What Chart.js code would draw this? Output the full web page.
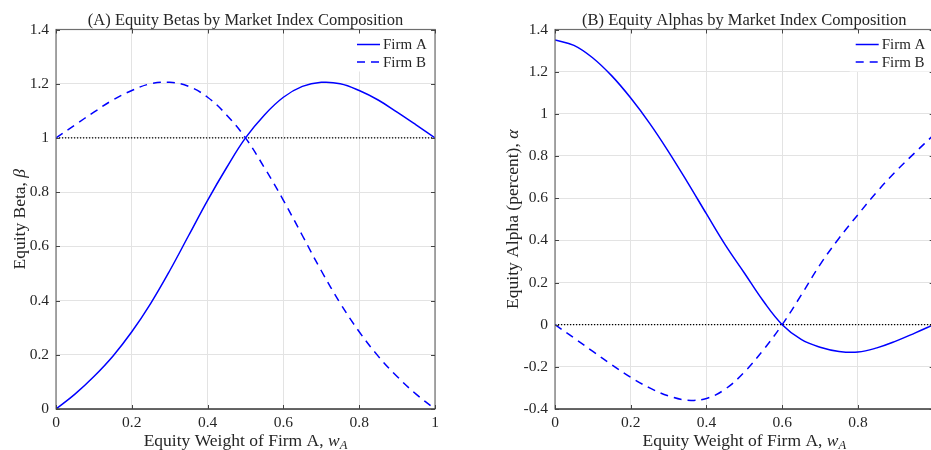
<!DOCTYPE html>
<html>
<head>
<meta charset="utf-8">
<script src="https://cdn.jsdelivr.net/npm/chart.js@4.4.0/dist/chart.umd.min.js"></script>
<style>
  html, body { margin: 0; padding: 0; background: #fff; overflow: hidden; }
  #wrap { position: relative; width: 931px; height: 450px; overflow: hidden; }
  canvas { position: absolute; top: 0; }
  #betaChart { left: 0; }
  #alphaChart { left: 465px; }
</style>
</head>
<body>
<div id="wrap">
  <canvas id="betaChart" width="465" height="450"></canvas>
  <canvas id="alphaChart" width="480" height="450"></canvas>
</div>
<script>
// Equity weight of firm A in the market index
const weights = [0, 0.05, 0.1, 0.15, 0.2, 0.25, 0.3, 0.35, 0.4, 0.45, 0.5,
  0.55, 0.6, 0.65, 0.7, 0.75, 0.8, 0.85, 0.9, 0.95, 1];

// Panel A: equity betas
const betaFirmA = [0, 0.055, 0.12, 0.195, 0.285, 0.39, 0.51, 0.64, 0.77, 0.89, 1.0,
  1.085, 1.15, 1.19, 1.205, 1.2, 1.175, 1.14, 1.095, 1.048, 1.0];
const betaFirmB = [1.0, 1.048, 1.095, 1.14, 1.175, 1.2, 1.205, 1.19, 1.15, 1.085, 1.0,
  0.89, 0.77, 0.64, 0.51, 0.39, 0.285, 0.195, 0.12, 0.055, 0];

// Panel B: equity alphas (percent)
const alphaFirmA = [1.35, 1.325, 1.265, 1.18, 1.075, 0.955, 0.82, 0.675, 0.525, 0.377, 0.245,
  0.112, 0, -0.07, -0.107, -0.127, -0.13, -0.11, -0.078, -0.04, 0];
const alphaFirmB = [0, -0.063, -0.127, -0.19, -0.25, -0.3, -0.338, -0.358, -0.35, -0.305, -0.225,
  -0.12, 0, 0.14, 0.285, 0.41, 0.522, 0.63, 0.727, 0.815, 0.9];

const firmLabels = ["Firm A", "Firm B"];
const panelTitles = [
  "(A) Equity Betas by Market Index Composition",
  "(B) Equity Alphas by Market Index Composition"
];
const betaRange = [0, 1.4];
const alphaRange = [-0.4, 1.4];
const betaMarket = 1;  // beta of the index itself
const alphaZero = 0;

const serif = '"Liberation Serif", "Times New Roman", serif';
const ink = "#262626";
const blue = "#0000ff";

// draw a list of text pieces (plain / italic / subscript) starting at x on baseline y
const drawRuns = (ctx, runs, x, y, size) => {
  runs.forEach((r) => {
    const s = r.sub ? size * 0.72 : size;
    ctx.font = (r.it ? "italic " : "") + s + "px " + serif;
    ctx.fillText(r.t, x, y + (r.sub ? 2.5 : 0));
    x += ctx.measureText(r.t).width;
  });
};
const runsWidth = (ctx, runs, size) => {
  let w = 0;
  runs.forEach((r) => {
    const s = r.sub ? size * 0.72 : size;
    ctx.font = (r.it ? "italic " : "") + s + "px " + serif;
    w += ctx.measureText(r.t).width;
  });
  return w;
};

// titles, legend and the boxed frame with inward ticks
const makeDecor = (cfg) => ({
  id: "decor",
  afterDatasetsDraw(chart) {
    const { ctx, chartArea: a, scales } = chart;
    ctx.save();

    // legend
    ctx.fillStyle = "#fff";
    ctx.fillRect(a.right - 84, a.top + 1, 84, 41);
    chart.data.datasets.slice(0, 2).forEach((ds, i) => {
      const ly = a.top + 15 + i * 17.5;
      ctx.strokeStyle = ds.borderColor;
      ctx.lineWidth = ds.borderWidth;
      ctx.setLineDash(ds.borderDash || []);
      ctx.beginPath();
      ctx.moveTo(a.right - 78, ly);
      ctx.lineTo(a.right - 55, ly);
      ctx.stroke();
      ctx.setLineDash([]);
      ctx.fillStyle = ink;
      ctx.font = "15px " + serif;
      ctx.textBaseline = "middle";
      ctx.fillText(ds.label, a.right - 52, ly + 1);
    });

    // frame
    ctx.lineWidth = 1.2;
    ctx.strokeStyle = "#6e6e6e";
    ctx.strokeRect(a.left, a.top, a.right - a.left, a.bottom - a.top);
    ctx.strokeStyle = ink;
    ctx.beginPath();
    ctx.moveTo(a.left, a.bottom);
    ctx.lineTo(a.right, a.bottom);
    ctx.stroke();

    // inward ticks on all four sides
    ctx.strokeStyle = "#444";
    ctx.lineWidth = 1;
    ctx.beginPath();
    scales.x.ticks.forEach((t) => {
      const px = Math.round(scales.x.getPixelForValue(t.value)) + 0.5;
      ctx.moveTo(px, a.bottom); ctx.lineTo(px, a.bottom - 4);
      ctx.moveTo(px, a.top); ctx.lineTo(px, a.top + 4);
    });
    scales.y.ticks.forEach((t) => {
      const py = Math.round(scales.y.getPixelForValue(t.value)) + 0.5;
      ctx.moveTo(a.left, py); ctx.lineTo(a.left + 4, py);
      ctx.moveTo(a.right, py); ctx.lineTo(a.right - 4, py);
    });
    ctx.stroke();
    ctx.restore();
  },
  afterDraw(chart) {
    const { ctx, chartArea: a } = chart;
    const cx = (a.left + a.right) / 2;
    ctx.save();
    ctx.fillStyle = ink;
    ctx.textBaseline = "alphabetic";
    ctx.textAlign = "left";

    // panel title
    ctx.font = "16.5px " + serif;
    const tw = ctx.measureText(cfg.title).width;
    ctx.fillText(cfg.title, cx - tw / 2, 25);

    // x axis title
    const xw = runsWidth(ctx, cfg.xTitle, 17.5);
    drawRuns(ctx, cfg.xTitle, cx - xw / 2, 446, 17.5);

    // y axis title, rotated
    const yw = runsWidth(ctx, cfg.yTitle, 17.5);
    ctx.translate(cfg.yTitleX, (a.top + a.bottom) / 2);
    ctx.rotate(-Math.PI / 2);
    drawRuns(ctx, cfg.yTitle, -yw / 2, 0, 17.5);
    ctx.restore();
  }
});

const toPoints = (ys) => weights.map((w, i) => ({ x: w, y: ys[i] }));
const tickText = (v) => String(+v.toFixed(1));

const makePanel = (id, cfg) => {
  const ctx = document.getElementById(id).getContext("2d");
  return new Chart(ctx, {
    type: "line",
    data: {
      datasets: [
        {
          label: firmLabels[0],
          data: toPoints(cfg.firmA),
          borderColor: blue,
          borderWidth: 1.5,
          pointRadius: 0,
          tension: 0.4,
        },
        {
          label: firmLabels[1],
          data: toPoints(cfg.firmB),
          borderColor: blue,
          borderWidth: 1.5,
          borderDash: [8, 6],
          pointRadius: 0,
          tension: 0.4,
        },
        {
          label: "reference",
          data: [{ x: 0, y: cfg.refLevel }, { x: 1, y: cfg.refLevel }],
          borderColor: "#000",
          borderWidth: 1.2,
          borderDash: [1.2, 1.8],
          pointRadius: 0,
        },
      ],
    },
    options: {
      responsive: false,
      animation: false,
      devicePixelRatio: 1,
      layout: { padding: { top: 29.5, right: cfg.padRight, left: 0, bottom: 0 } },
      plugins: { legend: { display: false }, title: { display: false }, tooltip: { enabled: false } },
      scales: {
        x: {
          type: "linear",
          min: 0,
          max: 1,
          afterFit: (s) => { s.height = 41; },
          border: { display: false },
          grid: { color: "#e3e3e3", lineWidth: 1, drawTicks: false },
          ticks: {
            stepSize: 0.2,
            padding: 5,
            color: ink,
            maxRotation: 0,
            font: { family: serif, size: 15.5 },
            callback: tickText,
          },
        },
        y: {
          min: cfg.range[0],
          max: cfg.range[1],
          afterFit: (s) => { s.width = cfg.yWidth; },
          border: { display: false },
          grid: { color: "#e3e3e3", lineWidth: 1, drawTicks: false },
          ticks: {
            stepSize: 0.2,
            padding: 7,
            color: ink,
            font: { family: serif, size: 15.5 },
            callback: tickText,
          },
        },
      },
    },
    plugins: [makeDecor(cfg)],
  });
};

makePanel("betaChart", {
  firmA: betaFirmA,
  firmB: betaFirmB,
  refLevel: betaMarket,
  range: betaRange,
  yWidth: 56,
  padRight: 30,
  yTitleX: 25,
  title: panelTitles[0],
  xTitle: [{ t: "Equity Weight of Firm A, " }, { t: "w", it: true }, { t: "A", it: true, sub: true }],
  yTitle: [{ t: "Equity Beta, " }, { t: "β", it: true }],
});

makePanel("alphaChart", {
  firmA: alphaFirmA,
  firmB: alphaFirmB,
  refLevel: alphaZero,
  range: alphaRange,
  yWidth: 90,
  padRight: 11.3,
  yTitleX: 53,
  title: panelTitles[1],
  xTitle: [{ t: "Equity Weight of Firm A, " }, { t: "w", it: true }, { t: "A", it: true, sub: true }],
  yTitle: [{ t: "Equity Alpha (percent), " }, { t: "α", it: true }],
});
</script>
</body>
</html>
